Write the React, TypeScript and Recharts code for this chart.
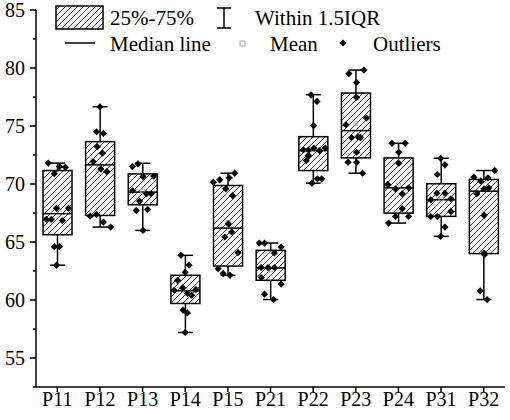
import React from "react";
import { ComposedChart, Bar, Scatter, XAxis, YAxis } from "recharts";

// box plot statistics per group
const categories = ["P11", "P12", "P13", "P14", "P15", "P21", "P22", "P23", "P24", "P31", "P32"];
const whiskerLow = [63.0, 66.29, 66.0, 57.2, 62.13, 60.04, 70.07, 70.93, 66.63, 65.49, 60.04];
const q1 = [65.63, 67.29, 68.21, 59.7, 62.93, 61.7, 71.16, 72.25, 67.49, 67.21, 64.0];
const medians = [67.44, 71.65, 69.3, 60.79, 66.2, 62.76, 72.88, 74.6, 69.67, 68.64, 69.38];
const q3 = [71.16, 73.65, 70.87, 62.13, 69.87, 64.28, 74.08, 77.84, 72.25, 70.02, 70.39];
const whiskerHigh = [71.8, 76.66, 71.79, 63.85, 70.93, 64.91, 77.7, 79.82, 73.51, 72.22, 71.16];
const means = [67.9, 71.0, 69.4, 60.8, 66.7, 62.6, 73.0, 75.2, 69.9, 68.7, 67.5];

// raw samples and their horizontal jitter (in category units)
const pointValues: number[][] = [
  [71.8, 71.5, 71.45, 70.9, 67.9, 67.9, 66.95, 66.95, 66.85, 64.6, 64.6, 63.0],
  [76.66, 74.5, 74.37, 73.22, 72.65, 71.93, 71.3, 71.07, 67.23, 67.38, 66.72, 66.29],
  [71.5, 71.73, 70.67, 70.64, 69.44, 69.15, 69.15, 68.53, 67.72, 67.8, 66.0],
  [63.85, 63.0, 62.4, 61.7, 61.04, 60.84, 60.9, 60.56, 60.41, 59.12, 58.89, 57.2],
  [70.93, 70.53, 70.36, 70.16, 69.58, 69.0, 66.57, 65.86, 65.43, 64.08, 62.7, 62.28, 62.13],
  [64.91, 64.91, 64.57, 64.05, 62.8, 62.8, 62.8, 61.94, 61.36, 60.5, 60.04],
  [77.69, 77.12, 75.03, 73.1, 73.1, 72.94, 72.94, 72.88, 72.45, 72.02, 70.45, 70.45, 70.07],
  [79.82, 79.52, 78.75, 77.46, 75.69, 75.11, 74.08, 74.0, 74.0, 72.73, 71.87, 71.87, 70.93],
  [73.51, 73.51, 72.73, 71.79, 69.96, 69.67, 69.58, 69.15, 67.87, 67.2, 67.2, 66.63],
  [72.22, 71.65, 70.82, 69.21, 69.21, 68.73, 68.64, 67.64, 67.2, 67.2, 66.29, 65.49],
  [71.16, 70.59, 70.53, 70.24, 69.67, 69.58, 69.15, 67.29, 64.05, 63.9, 60.79, 60.04],
];
const pointOffsets: number[][] = [
  [-0.21, 0.05, 0.19, -0.07, -0.02, 0.26, -0.26, -0.14, 0.12, -0.07, 0.05, -0.02],
  [0, -0.08, 0.08, -0.06, 0.06, -0.16, 0.02, 0.16, -0.23, -0.08, 0.08, 0.25],
  [-0.24, -0.11, 0.26, 0.01, -0.23, 0.09, 0.2, -0.07, -0.15, 0.12, 0.01],
  [-0.1, 0.09, 0, -0.18, -0.06, -0.26, 0.25, 0.05, 0.15, -0.05, 0.05, 0],
  [0.16, 0.03, -0.19, -0.34, -0.05, 0.11, 0.01, 0.09, -0.07, 0.24, -0.23, -0.11, 0.05],
  [-0.26, -0.14, 0.25, 0.09, -0.22, -0.06, 0.09, -0.22, 0.25, -0.14, 0.07],
  [-0.05, 0.09, 0.01, 0.02, 0.28, -0.23, -0.11, 0.15, -0.11, -0.16, 0.1, 0.2, -0.03],
  [0.19, -0.16, 0.02, 0.02, 0.25, -0.23, 0.05, -0.1, 0.11, 0.02, -0.18, 0.02, 0.16],
  [-0.15, 0.16, 0.01, 0.01, -0.25, 0.24, -0.07, 0.09, 0.09, -0.07, 0.24, -0.23],
  [-0.01, 0.09, -0.09, -0.1, 0.09, 0.23, -0.24, 0.23, -0.24, -0.09, 0.09, -0.01],
  [0.26, -0.23, 0.1, -0.07, 0.12, 0.01, -0.16, 0.01, 0.01, 0.02, -0.08, 0.08],
];

const yTicks = [52.5, 55, 57.5, 60, 62.5, 65, 67.5, 70, 72.5, 75, 77.5, 80, 82.5, 85];

const FONT = "Liberation Serif";

const boxData = categories.map((name, i) => ({
  name,
  range: [whiskerLow[i], whiskerHigh[i]],
  q1: q1[i],
  q3: q3[i],
  median: medians[i],
  mean: means[i],
}));

const scatterData = pointValues.flatMap((vals, i) =>
  vals.map((v, j) => ({ x: i + pointOffsets[i][j], y: v }))
);

const BoxShape = (props: any) => {
  const { x, y, width, height, payload } = props;
  const [lo, hi] = payload.range;
  const toY = (v: number) => y + ((hi - v) / (hi - lo)) * height;
  const cx = x + width / 2;
  const yq3 = toY(payload.q3);
  const yq1 = toY(payload.q1);
  const ymed = toY(payload.median);
  const ymean = toY(payload.mean);
  const cap = 7.5;
  return (
    <g>
      <line x1={cx} x2={cx} y1={y} y2={yq3} stroke="#000" strokeWidth={1.5} />
      <line x1={cx} x2={cx} y1={yq1} y2={y + height} stroke="#000" strokeWidth={1.5} />
      <line x1={cx - cap} x2={cx + cap} y1={y} y2={y} stroke="#000" strokeWidth={1.5} />
      <line x1={cx - cap} x2={cx + cap} y1={y + height} y2={y + height} stroke="#000" strokeWidth={1.5} />
      <rect x={x} y={yq3} width={width} height={yq1 - yq3} fill="#fff" />
      <rect x={x} y={yq3} width={width} height={yq1 - yq3} fill="url(#hatch)" stroke="#000" strokeWidth={1.5} />
      <line x1={x} x2={x + width} y1={ymed} y2={ymed} stroke="#000" strokeWidth={1.5} />
      <rect x={cx - 2} y={ymean - 2} width={4} height={4} fill="none" stroke="#aaa" strokeWidth={0.8} />
    </g>
  );
};

const Diamond = (props: any) => {
  const { cx, cy } = props;
  const r = 3.6;
  return <polygon points={`${cx},${cy - r} ${cx + r},${cy} ${cx},${cy + r} ${cx - r},${cy}`} fill="#000" />;
};

const Label = ({ x, y, size, children, anchor }: any) => (
  <text x={x} y={y} fontFamily={FONT} fontSize={size} textAnchor={anchor} fill="#000" style={{ fontFamily: FONT, fontSize: size }}>
    {children}
  </text>
);

const YTick = (props: any) => {
  const { x, y, payload } = props;
  const major = payload.value % 5 === 0;
  const axisX = x + 11;
  return (
    <g>
      <line x1={axisX - (major ? 6 : 3)} x2={axisX} y1={y} y2={y} stroke="#000" strokeWidth={1.5} />
      {major && (
        <Label x={x} y={y + 7} size={20} anchor="end">
          {payload.value}
        </Label>
      )}
    </g>
  );
};

const XTick = (props: any) => {
  const { x, y, payload } = props;
  return (
    <Label x={x} y={y + 14} size={20} anchor="middle">
      {payload.value}
    </Label>
  );
};

const Legend = () => (
  <svg width={510} height={60} style={{ position: "absolute", left: 0, top: 0 }}>
    <defs>
      <pattern id="hatchLegend" width={6} height={6} patternUnits="userSpaceOnUse">
        <path d="M0,6 L6,0 M-1.5,1.5 L1.5,-1.5 M4.5,7.5 L7.5,4.5" stroke="#222" strokeWidth={0.9} />
      </pattern>
    </defs>
    <rect x={56} y={6} width={47} height={23} fill="url(#hatchLegend)" stroke="#000" strokeWidth={1.5} />
    <Label x={110} y={25} size={21}>25%-75%</Label>
    <line x1={224} x2={224} y1={8} y2={28} stroke="#000" strokeWidth={1.5} />
    <line x1={217} x2={231} y1={8} y2={8} stroke="#000" strokeWidth={1.5} />
    <line x1={217} x2={231} y1={28} y2={28} stroke="#000" strokeWidth={1.5} />
    <Label x={255} y={25} size={21}>Within 1.5IQR</Label>
    <line x1={65} x2={95} y1={43} y2={43} stroke="#000" strokeWidth={1.5} />
    <Label x={110} y={51} size={21}>Median line</Label>
    <rect x={240} y={41} width={5} height={5} fill="none" stroke="#999" strokeWidth={0.8} />
    <Label x={270} y={51} size={21}>Mean</Label>
    <polygon points="343,39.5 346.5,43 343,46.5 339.5,43" fill="#000" />
    <Label x={373} y={51} size={21}>Outliers</Label>
  </svg>
);

export default function App() {
  return (
    <div style={{ position: "absolute", left: 0, top: 0, width: 510, height: 420, background: "#fff" }}>
      <ComposedChart width={510} height={420} data={boxData} margin={{ top: 10, right: 5, bottom: 0, left: 0 }}>
        <defs>
          <pattern id="hatch" width={6} height={6} patternUnits="userSpaceOnUse">
            <path d="M0,6 L6,0 M-1.5,1.5 L1.5,-1.5 M4.5,7.5 L7.5,4.5" stroke="#222" strokeWidth={0.9} />
          </pattern>
        </defs>
        <XAxis
          dataKey="name"
          height={33}
          tickSize={5}
          tickMargin={0}
          tickLine={{ stroke: "#000", strokeWidth: 1.5 }}
          axisLine={{ stroke: "#000", strokeWidth: 1.5 }}
          tick={<XTick />}
          interval={0}
        />
        <XAxis xAxisId="pts" type="number" dataKey="x" domain={[-0.5, 10.5]} hide allowDataOverflow />
        <YAxis
          domain={[52.5, 85]}
          ticks={yTicks}
          interval={0}
          width={36}
          tickSize={6}
          tickMargin={5}
          tickLine={false}
          axisLine={{ stroke: "#000", strokeWidth: 1.5 }}
          tick={<YTick />}
          allowDataOverflow
        />
        <Bar dataKey="range" barSize={29} shape={<BoxShape />} isAnimationActive={false} />
        <Scatter xAxisId="pts" data={scatterData} dataKey="y" shape={<Diamond />} isAnimationActive={false} />
      </ComposedChart>
      <Legend />
    </div>
  );
}
